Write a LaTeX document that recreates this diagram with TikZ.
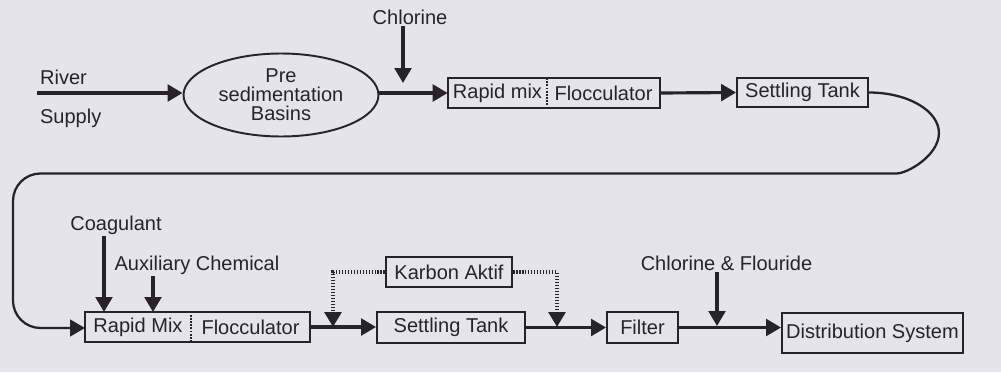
\documentclass[tikz,border=0pt]{standalone}
\usepackage{fontspec}
\setmainfont{Liberation Sans}
\usetikzlibrary{arrows.meta, shapes.geometric}
\definecolor{paper}{RGB}{229,228,234}
\definecolor{ink}{RGB}{38,36,40}
\tikzset{
  txt/.style   = {text=ink, font=\fontsize{11.4}{12}\selectfont},
  unit/.style  = {txt, rectangle, draw=ink, line width=1.1pt, inner sep=1pt},
  half/.style  = {txt, rectangle, inner sep=1pt, minimum height=0.58cm},
  basin/.style = {ellipse, draw=ink, line width=1.1pt, minimum width=3.9cm, minimum height=1.66cm,
                  inner sep=0pt, align=center, text=ink, font=\fontsize{11.4}{10.8}\selectfont},
  lbl/.style   = {txt, inner sep=1pt},
  flow/.style  = {draw=ink, line width=1.8pt, -{Triangle[length=8.5pt,width=9.5pt]}},
  dose/.style  = {draw=ink, line width=2pt, dash pattern=on 0.9pt off 0.8pt, -{Triangle[length=8.5pt,width=9.5pt]}},
  back/.style  = {draw=ink, line width=1.3pt, rounded corners=0.55cm, -{Triangle[length=8.5pt,width=9.5pt]}},
  split/.style = {draw=ink, line width=1.1pt, dash pattern=on 1pt off 0.8pt}
}

\begin{document}
\begin{tikzpicture}[x=0.02cm, y=-0.02cm]

  \fill[paper] (0,0) rectangle (1001,372);
  \useasboundingbox (0,0) rectangle (1001,372);

  % ---------- upper line ----------
  \node[lbl, anchor=west] (river)  at (38,77)  {River};
  \node[lbl, anchor=west] (supply) at (38,118) {Supply};
  \coordinate (intake) at (37,93);
  \node[basin] (pre) at (281,95) {Pre\\sedimentation\\Basins};
  \draw[flow] (intake) -- (intake -| pre.west);

  \node[lbl] (chl) at (410,17) {Chlorine};
  \coordinate (chlin) at (403,83);
  \draw[flow] (chl.south -| chlin) -- (chlin);

  \node[half, minimum width=1.98cm] (rm1) at (497.5,93) {Rapid mix};
  \node[half, minimum width=2.26cm] (fl1) at (603.5,93) {Flocculator};
  \draw[ink, line width=1.1pt] (rm1.north west) rectangle (fl1.south east);
  \draw[split] (rm1.north east) -- (rm1.south east);
  \draw[flow] (pre.east |- rm1.west) -- (rm1.west);

  \node[unit, minimum width=2.62cm, minimum height=0.58cm] (st1) at (802.5,92.5) {Settling Tank};
  \draw[flow] (fl1.east) -- (st1.west);

  % ---------- return loop ----------
  \coordinate (loopx) at (13,0);
  \draw[back] (st1.east) arc[start angle=90, end angle=-90, x radius=1.4cm, y radius=0.81cm]
    coordinate (loopend) -- (loopend -| loopx) -- (loopx |- 0,328) -- (85,328);

  % ---------- lower line ----------
  \node[half, minimum width=2.12cm, minimum height=0.6cm] (rm2) at (138,327) {Rapid Mix};
  \node[half, minimum width=2.38cm, minimum height=0.6cm] (fl2) at (250.5,327) {Flocculator};
  \draw[ink, line width=1.1pt] (rm2.north west) rectangle (fl2.south east);
  \draw[split] (rm2.north east) -- (rm2.south east);

  \node[lbl] (coag) at (116,225) {Coagulant};
  \coordinate (coagin) at (104,312);
  \draw[flow] (coag.south -| coagin) -- (coagin);
  \node[lbl] (aux) at (197,265) {Auxiliary Chemical};
  \coordinate (auxin) at (153,312);
  \draw[flow] (aux.south -| auxin) -- (auxin);

  \node[unit, minimum width=2.96cm, minimum height=0.62cm] (st2) at (451,327.5) {Settling Tank};
  \draw[flow] (fl2.east) -- (fl2.east -| st2.west);

  \node[unit, minimum width=2.52cm, minimum height=0.6cm] (karbon) at (449,272) {Karbon Aktif};
  \coordinate (kin1) at (333,327);
  \coordinate (kin2) at (557,327);
  \draw[dose] (karbon.west) -| (kin1);
  \draw[dose] (karbon.east) -| (kin2);

  \node[unit, minimum width=1.42cm, minimum height=0.62cm] (filter) at (642.5,327.5) {Filter};
  \draw[flow] (st2.east) -- (filter.west);

  \node[lbl] (clf) at (726.5,263) {Chlorine \& Flouride};
  \coordinate (clfin) at (717,326);
  \draw[flow] (clf.south -| clfin) -- (clfin);

  \node[unit, minimum width=3.62cm, minimum height=0.8cm, inner sep=0pt] (dist) at (872.5,333) {Distribution System};
  \draw[flow] (filter.east) -- (filter.east -| dist.west);

\end{tikzpicture}
\end{document}
